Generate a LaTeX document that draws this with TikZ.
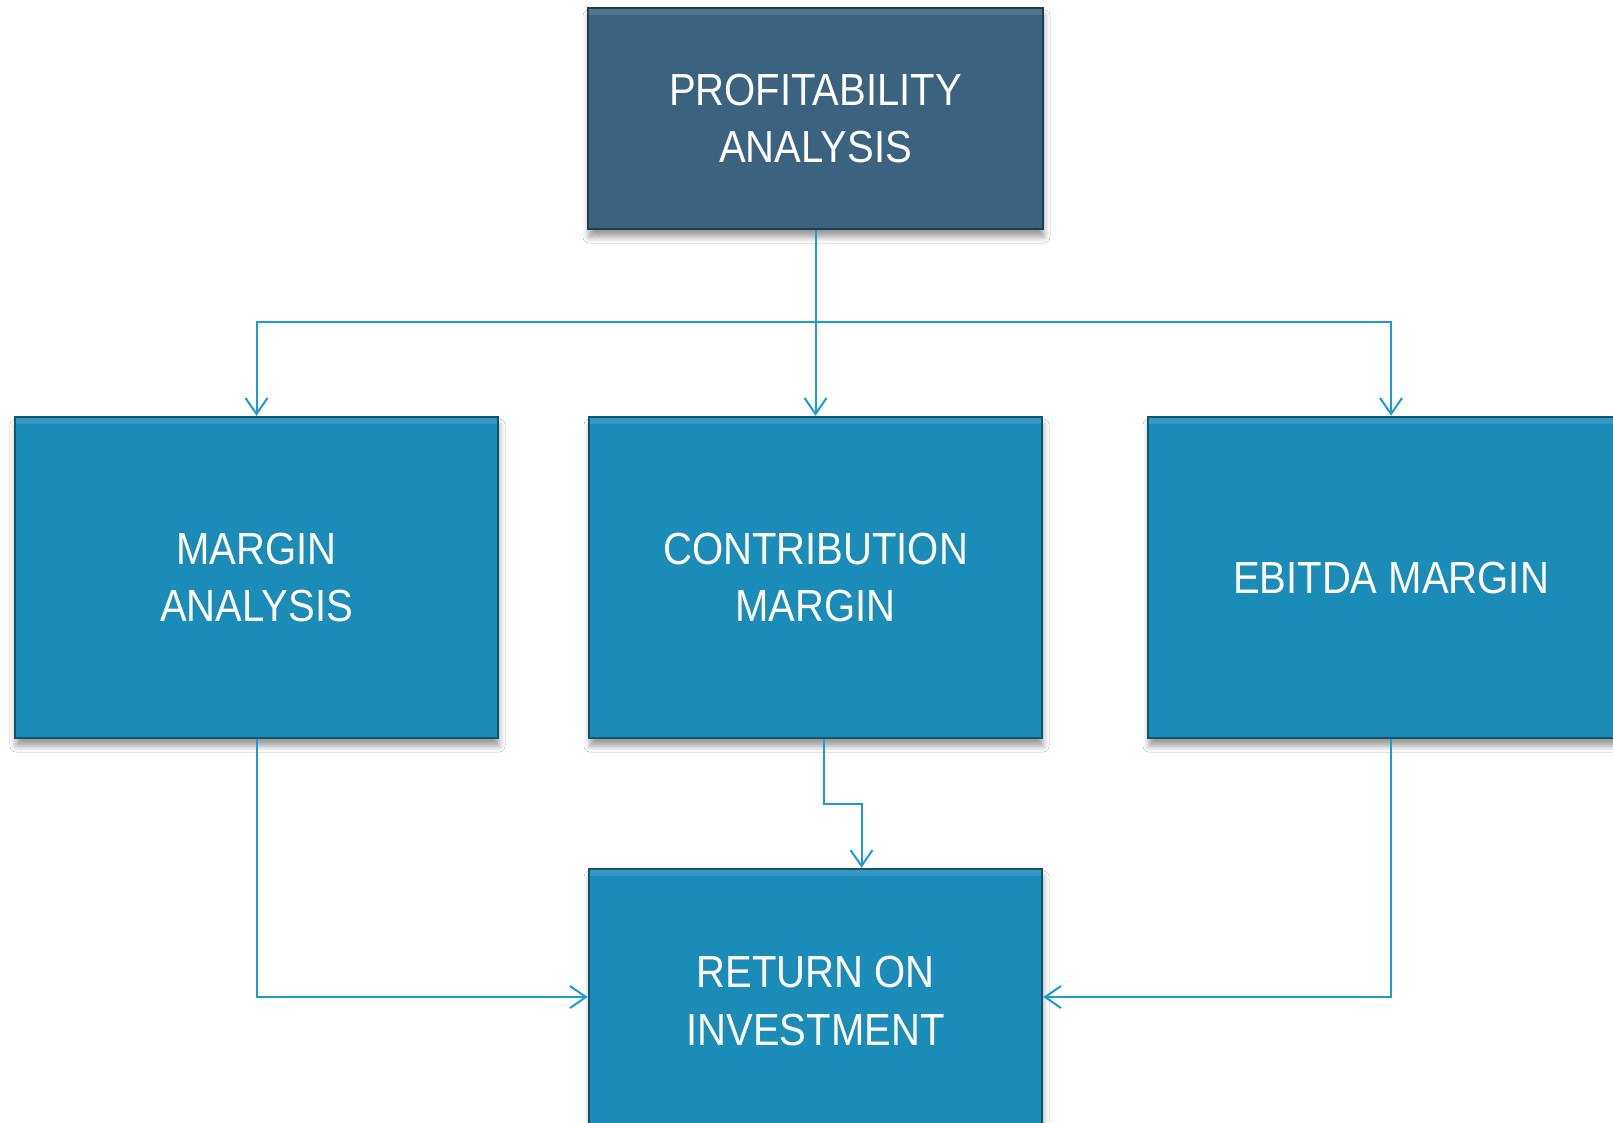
\documentclass[tikz,border=0pt]{standalone}
\usepackage{fontspec}
\setmainfont{Liberation Sans}[FakeStretch=0.89]
\usepackage{tikz}
\usetikzlibrary{arrows.meta,shadows.blur}
\definecolor{topblue}{RGB}{59,98,126}
\definecolor{boxblue}{RGB}{27,140,184}
\definecolor{lineblue}{RGB}{30,155,210}

\begin{document}
\begin{tikzpicture}[x=1pt,y=-1pt,line width=2pt,>={Straight Barb[length=16pt,width=22pt]}]
    \tikzstyle{box}=[rectangle, fill=boxblue, draw=boxblue!60!black, line width=2.5pt,
        minimum height=321pt, text=white, align=center, inner sep=0pt,
        font=\fontsize{45}{57.6}\selectfont,
        blur shadow={shadow xshift=1pt, shadow yshift=-8pt, shadow blur radius=6pt, shadow opacity=40},
        path picture={\fill[white,opacity=.12] (path picture bounding box.north west)
            rectangle ([yshift=-7pt]path picture bounding box.north east);}]
    \tikzstyle{top box}=[box, fill=topblue, draw=topblue!60!black]
    \tikzstyle{link}=[->, draw=lineblue]

    \useasboundingbox (0,0) rectangle (1613,1122);
    \clip (0,0) rectangle (1613,1122);
    \fill[white] (0,0) rectangle (1613,1122);

    % Draw the top node
    \node[top box, minimum width=455pt, minimum height=221pt] (PA) at (815.5,118.5) {PROFITABILITY\\ANALYSIS};

    % Draw the middle row
    \node[box, minimum width=483pt] (MA) at (256.5,577.5) {MARGIN\\ANALYSIS};
    \node[box, minimum width=453pt] (CM) at (815.5,577.5) {CONTRIBUTION\\MARGIN};
    \node[box, minimum width=486pt] (EM) at (1391,577.5) {EBITDA MARGIN};

    % Draw the bottom node
    \node[box, minimum width=453pt, minimum height=264pt] (ROI) at (815.5,1001) {RETURN ON\\INVESTMENT};

    % Connect the top node with the middle row
    \coordinate (split) at (815.5,322);
    \draw[draw=lineblue] (PA.south) -- (split);
    \draw[link] (split) -| (MA.north);
    \draw[link] (split) -- (CM.north);
    \draw[link] (split) -| (EM.north);

    % Connect the middle row with the bottom node
    \draw[link] ([xshift=8pt]CM.south) -- ++(0,65) -| ([xshift=46pt]ROI.north);
    \draw[link] (MA.south) |- ([yshift=4pt]ROI.west);
    \draw[link] (EM.south) |- ([yshift=4pt]ROI.east);

\end{tikzpicture}
\end{document}
